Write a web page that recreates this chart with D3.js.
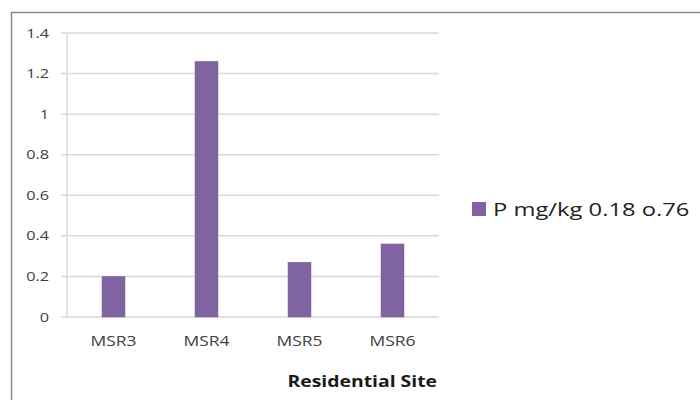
<!DOCTYPE html>
<html><head><meta charset="utf-8">
<script src="https://cdn.jsdelivr.net/npm/d3@7"></script>
<style>body{margin:0;background:#fff}svg{display:block}</style>
</head><body>
<svg id="c" width="700" height="400"></svg>
<script>
const categories = ["MSR3","MSR4","MSR5","MSR6"];
const values = [0.2, 1.26, 0.27, 0.36];
const yTicks = [0,0.2,0.4,0.6,0.8,1,1.2,1.4];
const seriesName = "P mg/kg 0.18 o.76";
const xTitle = "Residential Site";

(function(){
const svg = d3.select("#c");
const font = "'Open Sans', 'DejaVu Sans', sans-serif";
const sx = 1.25; // horizontal text stretch seen in the reference
const pLeft = 67, pRight = 439, pTop = 33, pBottom = 317;
const tr = (px,py)=>`translate(${px},${py}) scale(${sx},1)`;

svg.append("rect").attr("x",11.5).attr("y",12.5).attr("width",720).attr("height",420)
  .attr("fill","#fff").attr("stroke","#8c8c8c").attr("stroke-width",1.5);

const x = d3.scaleBand().domain(categories).range([pLeft,pRight]).paddingInner(0.753).paddingOuter(0.3765);
const y = d3.scaleLinear().domain([0,1.4]).range([pBottom,pTop]);

svg.append("g").selectAll("line").data(yTicks).join("line")
  .attr("x1",61).attr("x2",pRight).attr("y1",d=>y(d)).attr("y2",d=>y(d))
  .attr("stroke","#d9d9d9").attr("stroke-width",1.5);
svg.append("line").attr("x1",pLeft).attr("x2",pLeft).attr("y1",pTop).attr("y2",pBottom)
  .attr("stroke","#d9d9d9").attr("stroke-width",1.5);

svg.append("g").selectAll("text").data(yTicks).join("text")
  .attr("transform",d=>tr(49,y(d))).attr("dy","0.35em").attr("text-anchor","end")
  .attr("font-family",font).attr("font-size",13).attr("fill","#404040")
  .text(d=>d);

svg.append("g").selectAll("rect").data(values).join("rect")
  .attr("x",(d,i)=>x(categories[i])).attr("width",x.bandwidth())
  .attr("y",d=>y(d)).attr("height",d=>y(0)-y(d))
  .attr("fill","#8064a2").attr("stroke","#7a5e9c").attr("stroke-width",0.5);

svg.append("g").selectAll("text").data(categories).join("text")
  .attr("transform",d=>tr(x(d)+x.bandwidth()/2,341)).attr("dy","0.35em").attr("text-anchor","middle")
  .attr("font-family",font).attr("font-size",14).attr("fill","#404040")
  .text(d=>d);

svg.append("text").attr("transform",tr(437,387)).attr("text-anchor","end")
  .attr("font-family",font).attr("font-size",15.5).attr("font-weight","bold").attr("fill","#1a1a1a")
  .text(xTitle);

svg.append("rect").attr("x",472).attr("y",202).attr("width",14).attr("height",14).attr("fill","#8064a2");
svg.append("text").attr("transform",tr(493,209)).attr("dy","0.35em")
  .attr("font-family",font).attr("font-size",19).attr("fill","#222")
  .text(seriesName);
})();
</script>
</body></html>
